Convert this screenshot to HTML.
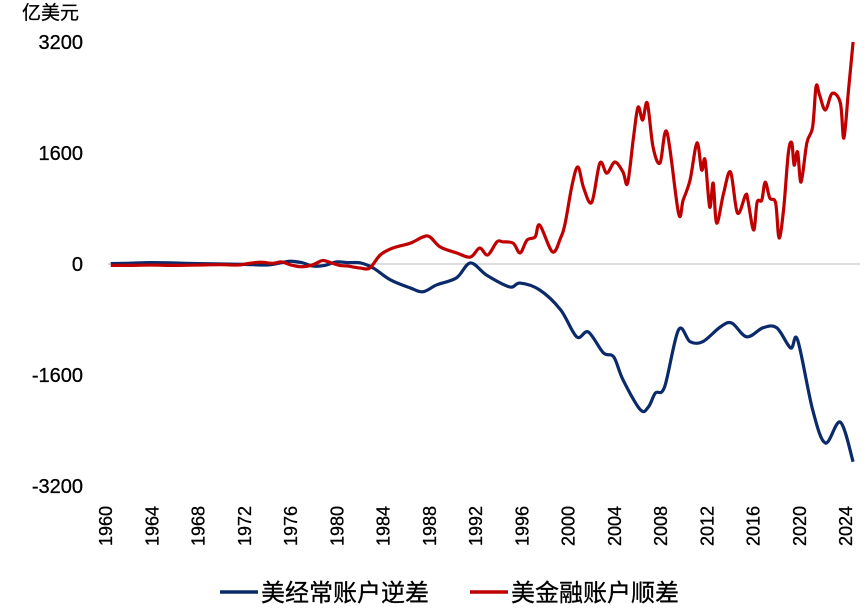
<!DOCTYPE html>
<html><head><meta charset="utf-8"><style>
body{margin:0;background:#fff}
svg{display:block;font-family:"Liberation Sans","Noto Sans CJK SC",sans-serif}
</style></head><body>
<svg id="chart" width="864" height="609" viewBox="0 0 864 609">
<text x="22" y="19" font-size="19" fill="#000" stroke="#000" stroke-width="0.3">亿美元</text>
<g id="yaxis"></g>
<g id="xaxis"></g>
<line x1="108" x2="860" y1="264" y2="264" stroke="#bbb" stroke-width="1"/>
<g id="series"></g>
<g>
<line x1="220" x2="258" y1="592" y2="592" stroke="#0b2a6a" stroke-width="3.5"/>
<text x="261" y="601" font-size="24" stroke="#000" stroke-width="0.3">美经常账户逆差</text>
<line x1="470" x2="508" y1="592" y2="592" stroke="#c00000" stroke-width="3.5"/>
<text x="511" y="601" font-size="24" stroke="#000" stroke-width="0.3">美金融账户顺差</text>
</g>
</svg>
<script>
const yTicks=[3200,1600,0,-1600,-3200];
const xTicks=[1960,1964,1968,1972,1976,1980,1984,1988,1992,1996,2000,2004,2008,2012,2016,2020,2024];
const redYears=[1960.5,1962,1964,1966,1968,1970,1971.5,1972.5,1973.5,1974.5,1975.3,1976,1977,1978,1978.8,1979.5,1980.3,1981,1982.06,1982.9,1983.8,1984.9,1986.4,1987.5,1988.1,1989,1990.4,1991.6,1992.4,1993.1,1993.9,1994.4,1995.3,1995.9,1996.5,1997.2,1997.6,1998.7,1999.4,1999.8,2000.4,2000.9,2001.4,2002.1,2002.8,2003.4,2004.1,2004.8,2005.2,2005.7,2006.1,2006.5,2006.9,2007.4,2008,2008.6,2009.6,2010,2010.6,2011.2,2011.6,2011.9,2012.3,2012.6,2012.9,2013.5,2014.1,2014.7,2015.4,2015.6,2016.1,2016.4,2016.8,2017.1,2017.5,2018,2018.3,2018.7,2019.1,2019.4,2019.6,2019.9,2020.2,2020.7,2021.2,2021.5,2021.8,2022.3,2022.9,2023.6,2023.9,2024.3,2024.7];
const redValues=[-20,-20,-15,-20,-15,-10,-15,10,25,10,30,-10,-40,-10,50,20,-20,-30,-58,-58,130,230,300,390,390,245,160,100,230,130,320,320,300,160,345,390,560,175,375,590,1140,1400,1095,890,1455,1310,1470,1325,1165,1815,2260,2075,2320,1685,1455,1900,735,920,1210,1745,1355,1500,820,1165,590,1020,1325,735,995,920,490,890,920,1180,950,880,375,805,1600,1745,1425,1615,1180,1745,1975,2560,2435,2220,2460,2320,1815,2500,3200];
const blueYears=[1960.5,1962,1964,1966,1968,1970,1972,1974,1975,1976,1977,1978,1979,1980,1981,1982.1,1983.2,1984.7,1986.4,1987.5,1988.7,1990.4,1991.6,1993,1995,1995.9,1997.6,1999.4,2000.8,2001.8,2003.1,2004,2004.8,2006.3,2007,2007.6,2008.4,2009.6,2010.6,2011.7,2013.2,2014.2,2015.5,2016.9,2018.1,2019.3,2019.9,2021.2,2022.3,2023.6,2024.7];
const blueValues=[5,10,20,15,5,0,-5,-15,10,40,20,-30,-20,30,20,15,-58,-230,-345,-400,-300,-200,15,-160,-330,-275,-375,-660,-1050,-980,-1280,-1340,-1670,-2100,-2060,-1860,-1770,-950,-1120,-1120,-910,-850,-1050,-920,-920,-1210,-1095,-2100,-2580,-2280,-2850];
const NS="http://www.w3.org/2000/svg";
function xs(y){return 105+(y-1960)*11.5625;}
function ys(v){return 264-v*0.069375;}
const yax=document.getElementById('yaxis');
yTicks.forEach(t=>{const e=document.createElementNS(NS,'text');
e.setAttribute('x',83);e.setAttribute('y',ys(t)+7);e.setAttribute('text-anchor','end');e.setAttribute('font-size','20');
e.setAttribute('stroke','#000');e.setAttribute('stroke-width','0.3');


e.textContent=t;yax.appendChild(e);});
const xax=document.getElementById('xaxis');
xTicks.forEach(t=>{const e=document.createElementNS(NS,'text');
const x=xs(t)+7;
e.setAttribute('transform',`translate(${x},${546}) rotate(-90)`);e.setAttribute('font-size','18');
e.setAttribute('stroke','#000');e.setAttribute('stroke-width','0.3');


e.textContent=t;xax.appendChild(e);});
function path(xsArr,vs){let d='';const p=xsArr.map((y,i)=>[xs(y),ys(vs[i])]);
d='M'+p[0][0]+','+p[0][1];
for(let i=1;i<p.length;i++){const p0=p[i-2]||p[i-1],p1=p[i-1],p2=p[i],p3=p[i+1]||p[i];
const c1=[p1[0]+(p2[0]-p0[0])/6,p1[1]+(p2[1]-p0[1])/6],c2=[p2[0]-(p3[0]-p1[0])/6,p2[1]-(p3[1]-p1[1])/6];
d+=` C${c1[0]},${c1[1]} ${c2[0]},${c2[1]} ${p2[0]},${p2[1]}`;}return d;}
const g=document.getElementById('series');
const b=document.createElementNS(NS,'path');
b.setAttribute('d',path(blueYears,blueValues));b.setAttribute('fill','none');b.setAttribute('stroke','#0b2a6a');b.setAttribute('stroke-width','3.2');


g.appendChild(b);
const r=document.createElementNS(NS,'path');
r.setAttribute('d',path(redYears,redValues));r.setAttribute('fill','none');r.setAttribute('stroke','#c00000');r.setAttribute('stroke-width','3.2');


g.appendChild(r);
</script>
</body></html>
